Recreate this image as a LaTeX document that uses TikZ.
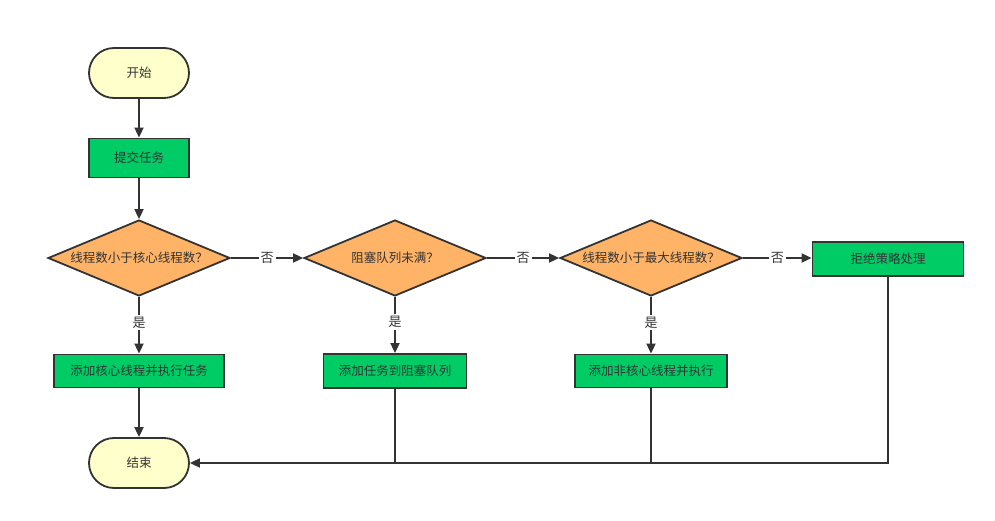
\documentclass[tikz,border=0pt]{standalone}
\usepackage{fontspec}
\newfontfamily\cjk{Noto Sans CJK SC}
\usetikzlibrary{shapes.geometric,shapes.misc,arrows.meta}
\definecolor{termfill}{HTML}{FFFFCC}
\definecolor{procfill}{HTML}{00CC66}
\definecolor{decfill}{HTML}{FFB366}
\definecolor{linec}{HTML}{333333}
\tikzset{
  base/.style={draw=linec, line width=1.8pt, font=\cjk\fontsize{12.5}{14}\selectfont, text=black!80, inner sep=0pt},
  term/.style={base, rounded rectangle, fill=termfill, minimum width=100pt, minimum height=50pt},
  proc/.style={base, rectangle, fill=procfill, minimum height=34pt},
  dec/.style={base, diamond, fill=decfill, minimum width=182pt, minimum height=76pt, aspect=2.4},
  conn/.style={draw=linec, line width=1.8pt, -{Triangle[length=10pt,width=9pt]}},
  plain/.style={draw=linec, line width=1.8pt},
  lbl/.style={fill=white, font=\cjk\fontsize{13}{14}\selectfont, text=black!80, inner sep=2pt}
}
\begin{document}
\begin{tikzpicture}[x=1pt,y=-1pt]
\useasboundingbox (0,0) rectangle (995,521);
\node[term] (start) at (139,73) {开始};
\node[proc, minimum width=100pt, minimum height=39pt] (submit) at (139,158) {提交任务};
\node[dec] (d1) at (139,258) {线程数小于核心线程数？};
\node[dec] (d2) at (395,258) {阻塞队列未满？};
\node[dec] (d3) at (651,258) {线程数小于最大线程数？};
\node[proc, minimum width=151pt] (reject) at (888,259) {拒绝策略处理};
\node[proc, minimum width=170pt, minimum height=33pt] (p1) at (139,371) {添加核心线程并执行任务};
\node[proc, minimum width=143pt] (p2) at (395,371) {添加任务到阻塞队列};
\node[proc, minimum width=152pt, minimum height=33pt] (p3) at (651,371) {添加非核心线程并执行};
\node[term] (end) at (139,463) {结束};
\coordinate (j2) at (395,463);
\coordinate (j3) at (651,463);
\coordinate (j4) at (888,463);

\draw[conn] (start) -- (submit);
\draw[conn] (submit) -- (d1);
\draw[conn] (d1) -- node[lbl]{否} (d2);
\draw[conn] (d2) -- node[lbl]{否} (d3);
\draw[conn] (d3.east) -- node[lbl]{否} (reject.west |- d3.east);
\draw[conn] (d1) -- node[lbl, pos=0.45]{是} (p1);
\draw[conn] (d2) -- node[lbl, pos=0.45]{是} (p2);
\draw[conn] (d3) -- node[lbl, pos=0.45]{是} (p3);
\draw[conn] (p1) -- (end);
\draw[plain] (p2) -- (j2);
\draw[plain] (p3) -- (j3);
\draw[conn] (reject) -- (j4) -- (end);
\end{tikzpicture}
\end{document}
